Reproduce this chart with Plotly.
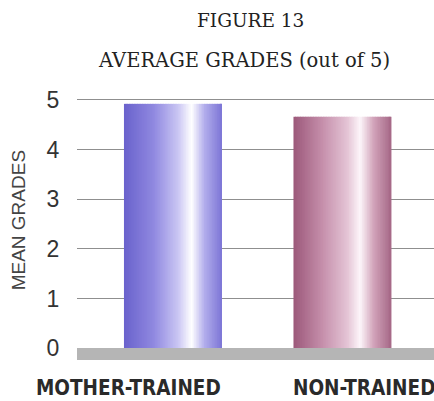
import plotly.graph_objects as go

# data
categories = ["MOTHER-TRAINED", "NON-TRAINED"]
mean_grades = [4.92, 4.66]
y_ticks = [0, 1, 2, 3, 4, 5]

title_top = "FIGURE 13"
title_sub = "AVERAGE GRADES (out of 5)"
y_title = "MEAN GRADES"

# look
BAR_W = 0.578
N_SLICES = 60
gradients = [
    [(0.0, "#6a62cc"), (0.3, "#8f88e0"), (0.55, "#c9c5f3"), (0.69, "#ffffff"),
     (0.82, "#b3aeec"), (1.0, "#7c75d6")],
    [(0.0, "#9c587a"), (0.3, "#c690ac"), (0.55, "#e4c4d5"), (0.68, "#fdf6fa"),
     (0.82, "#d1a2b9"), (1.0, "#a56786")],
]


def hex_rgb(h):
    h = h.lstrip("#")
    return [int(h[i:i + 2], 16) for i in (0, 2, 4)]


def grad_color(stops, t):
    for (p0, c0), (p1, c1) in zip(stops, stops[1:]):
        if p0 <= t <= p1:
            f = (t - p0) / (p1 - p0) if p1 > p0 else 0
            a, b = hex_rgb(c0), hex_rgb(c1)
            rgb = [round(a[k] + (b[k] - a[k]) * f) for k in range(3)]
            return "rgb(%d,%d,%d)" % tuple(rgb)
    return stops[-1][1]


fig = go.Figure()

# each bar is drawn as thin vertical slices to fake the shaded fill
sw = BAR_W / N_SLICES
for j in range(N_SLICES):
    t = (j + 0.5) / N_SLICES
    fig.add_trace(go.Bar(
        x=categories,
        y=mean_grades,
        offset=-BAR_W / 2 + j * sw,
        width=sw * 1.6 if j < N_SLICES - 1 else sw,
        marker=dict(color=[grad_color(g, t) for g in gradients], line=dict(width=0)),
        hoverinfo="skip",
        showlegend=False,
    ))

# grey floor under the bars
fig.add_shape(type="rect", xref="paper", yref="y", x0=0, x1=1, y0=-0.24, y1=0,
              fillcolor="#b5b5b5", line=dict(width=0), layer="above")

serif = dict(family="DejaVu Serif", color="#222")
fig.add_annotation(text=title_top, xref="paper", yref="paper", x=0.487, y=1.232,
                   xanchor="center", yanchor="middle", showarrow=False,
                   font=dict(serif, size=18.5))
fig.add_annotation(text=title_sub, xref="paper", yref="paper", x=0.468, y=1.09,
                   xanchor="center", yanchor="middle", showarrow=False,
                   font=dict(serif, size=19.5))

# rotated y title
fig.add_annotation(text=y_title, xref="paper", yref="paper", x=-0.165, y=0.51,
                   xanchor="center", yanchor="middle", textangle=-90, showarrow=False,
                   font=dict(family="Liberation Sans, Arial, sans-serif", size=19, color="#444"))

label_x = [0.143, 0.804]
for cat, lx in zip(categories, label_x):
    fig.add_annotation(text="<b>%s</b>" % cat, x=lx, y=-0.098, xref="paper", yref="paper",
                       xanchor="center", yanchor="middle", showarrow=False,
                       font=dict(family="Liberation Sans Narrow, DejaVu Sans Condensed, Arial Narrow, sans-serif",
                                 size=20.5, color="#2a2a2a"))

fig.update_layout(
    width=434, height=401,
    margin=dict(l=77, r=0, t=85, b=40),
    paper_bgcolor="white", plot_bgcolor="white",
    barmode="overlay",
    xaxis=dict(range=[-0.566, 1.54], showticklabels=False, showgrid=False,
               zeroline=False, showline=False, ticks="", automargin=False),
    yaxis=dict(range=[-0.26, 5.3], tickvals=y_ticks, showgrid=True, automargin=False,
               gridcolor="#8f8f8f", gridwidth=1, zeroline=False, showline=False,
               ticks="outside", ticklen=12, tickcolor="rgba(0,0,0,0)",
               tickfont=dict(family="Liberation Sans, Arial, sans-serif", size=23, color="#333")),
)

# drop the default body margin so the page is exactly the figure size
fig.write_html("out.html", config={"displayModeBar": False},
               post_script="document.body.style.margin='0';")
